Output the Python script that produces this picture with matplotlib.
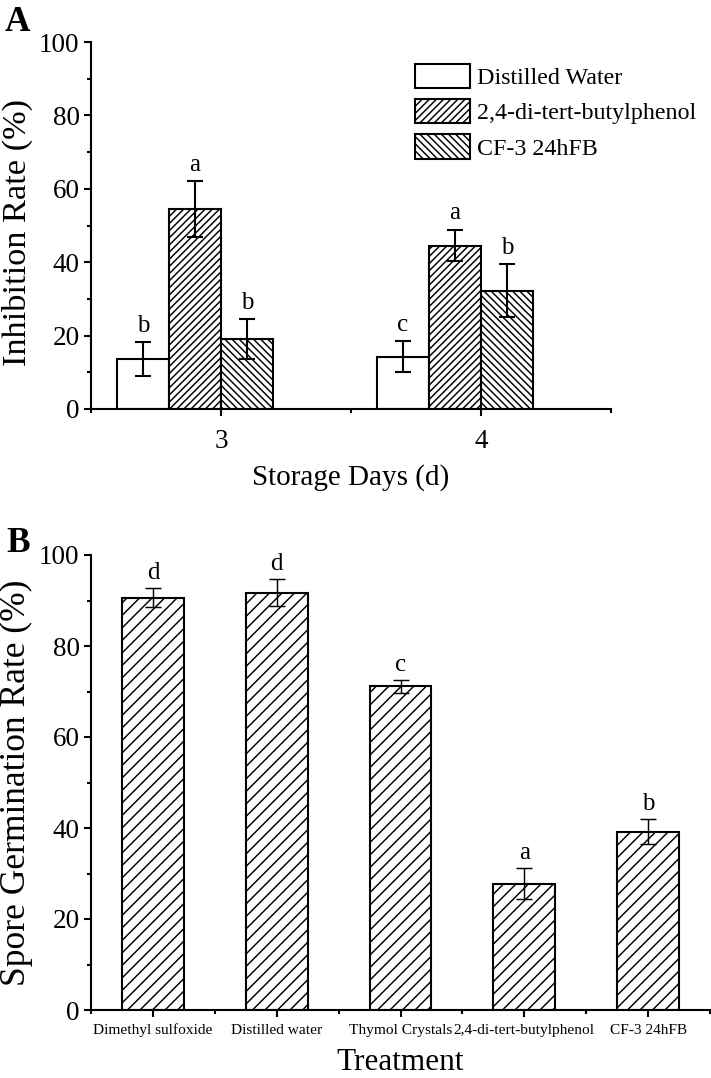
import numpy as np
import matplotlib.pyplot as plt
from matplotlib.ticker import MultipleLocator

plt.rcParams['font.family'] = ['Liberation Serif', 'DejaVu Serif']
plt.rcParams['hatch.linewidth'] = 0.7

# ---- panel A data
days = [3, 4]
series_a = ['Distilled Water', '2,4-di-tert-butylphenol', 'CF-3 24hFB']
inhib_mean = [[13.6, 14.3], [54.5, 44.5], [19.0, 32.2]]
inhib_err = [[4.6, 4.1], [7.6, 4.3], [5.5, 7.2]]
inhib_letters = [['b', 'c'], ['a', 'a'], ['b', 'b']]
hatches_a = ['', '/' * 7, '\\' * 7]

# ---- panel B data
treatments = ['Dimethyl sulfoxide', 'Distilled water', 'Thymol Crystals',
              '2,4-di-tert-butylphenol', 'CF-3 24hFB']
germ_mean = [90.6, 91.7, 71.1, 27.7, 39.2]
germ_err = [2.1, 3.0, 1.4, 3.4, 2.7]
germ_letters = ['d', 'd', 'c', 'a', 'b']

DPI = 150
fig = plt.figure(figsize=(711 / DPI, 1078 / DPI), dpi=DPI)

def style_axes(ax):
    for s in ['top', 'right']:
        ax.spines[s].set_visible(False)
    for s in ['left', 'bottom']:
        ax.spines[s].set_linewidth(1.0)
    ax.tick_params(which='major', direction='out', length=3.5, width=1.0, labelsize=13, pad=2)
    ax.tick_params(which='minor', direction='out', length=2, width=1.0)
    ax.yaxis.set_major_locator(MultipleLocator(20))
    ax.yaxis.set_minor_locator(MultipleLocator(10))
    ax.set_ylim(0, 100)

# ---------------- panel A
axA = fig.add_axes([91 / 711, 1 - 409 / 1078, 520 / 711, 367 / 1078])
w = 0.2
offsets = [-0.4, -0.2, 0.0]
x = np.array(days, dtype=float)
for i in range(3):
    xs = x + offsets[i]
    axA.bar(xs, inhib_mean[i], width=w, align='edge', color='white',
            edgecolor='black', linewidth=1.0, hatch=hatches_a[i], label=series_a[i], zorder=2)
    xc = xs + w / 2
    axA.errorbar(xc, inhib_mean[i], yerr=inhib_err[i], fmt='none', ecolor='black',
                 elinewidth=1.0, capsize=4, capthick=1.0, zorder=3)
    for j in range(len(days)):
        axA.annotate(inhib_letters[i][j], (xc[j], inhib_mean[i][j] + inhib_err[i][j]),
                     xytext=(0, 5), textcoords='offset points', ha='center', va='baseline',
                     fontsize=12)
axA.set_xlim(2.5, 4.5)
axA.set_xticks(days)
axA.xaxis.set_minor_locator(MultipleLocator(0.5))
style_axes(axA)
axA.tick_params(axis='x', which='major', pad=6)
axA.set_xlabel('Storage Days (d)', fontsize=14, labelpad=5)
axA.set_ylabel('Inhibition Rate (%)', fontsize=16.5)
axA.yaxis.set_label_coords(-0.1115, 0.48)
leg = axA.legend(loc='upper left', bbox_to_anchor=(415 / 711, 1 - 64 / 1078),
                 bbox_transform=fig.transFigure, frameon=False, fontsize=11.5,
                 handlelength=2.3, handleheight=1.17, labelspacing=0.42,
                 handletextpad=0.3, borderpad=0, borderaxespad=0)
fig.text(5 / 711, 1 - 6 / 1078, 'A', fontsize=17, fontweight='bold', va='top')

# ---------------- panel B
axB = fig.add_axes([91 / 711, 1 - 1010 / 1078, 619 / 711, 455 / 1078])
xb = np.arange(1, len(treatments) + 1)
axB.bar(xb, germ_mean, width=0.5, color='white', edgecolor='black', linewidth=1.0,
        hatch='////', zorder=2)
axB.errorbar(xb, germ_mean, yerr=germ_err, fmt='none', ecolor='black',
             elinewidth=0.7, capsize=4, capthick=0.7, zorder=3)
for j in range(len(treatments)):
    axB.annotate(germ_letters[j], (xb[j], germ_mean[j] + germ_err[j]),
                 xytext=(0, 4.5), textcoords='offset points', ha='center', va='baseline',
                 fontsize=12)
axB.set_xlim(0.5, len(treatments) + 0.5)
axB.set_xticks(xb)
axB.set_xticklabels(treatments)
axB.xaxis.set_minor_locator(MultipleLocator(0.5))
style_axes(axB)
axB.tick_params(axis='x', which='major', labelsize=7.4, pad=3)
axB.set_xlabel('Treatment', fontsize=15, labelpad=5)
axB.set_ylabel('Spore Germination Rate (%)', fontsize=17)
axB.yaxis.set_label_coords(-0.0937, 0.5)
fig.text(6 / 711, 1 - 527 / 1078, 'B', fontsize=17, fontweight='bold', va='top')

fig.savefig('out.png', dpi=DPI)
